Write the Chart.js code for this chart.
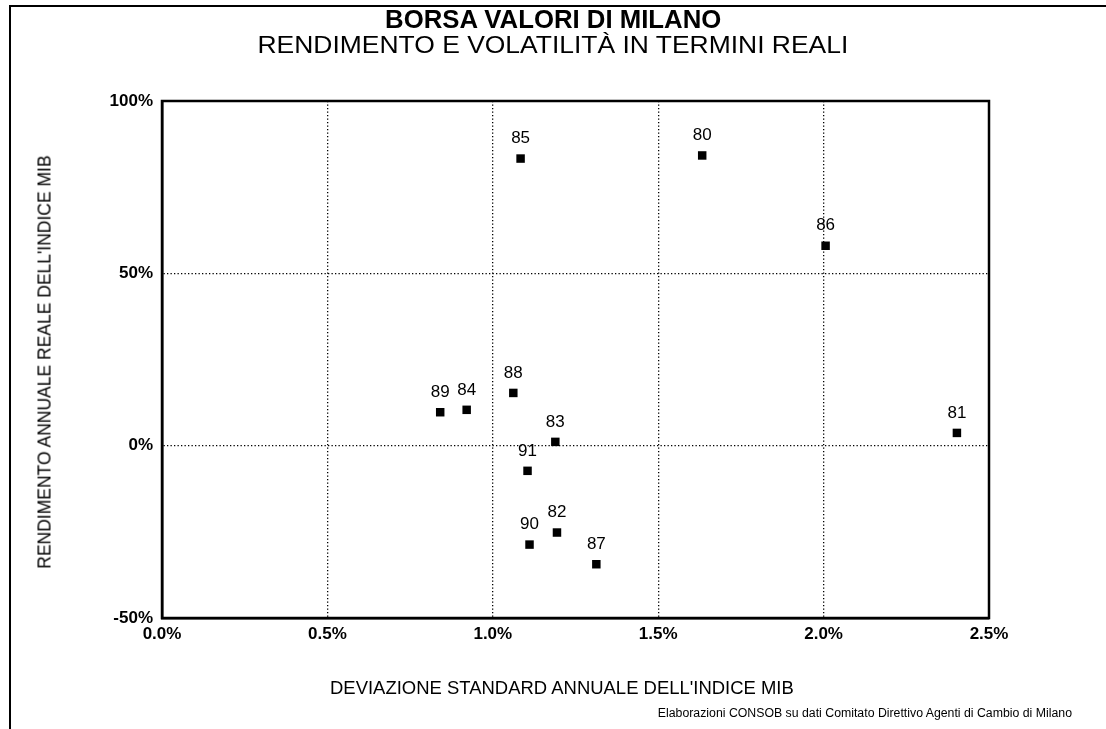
<!DOCTYPE html>
<html>
<head>
<meta charset="utf-8">
<script src="https://cdn.jsdelivr.net/npm/chart.js@4.4.0/dist/chart.umd.min.js"></script>
<style>
  html, body { margin: 0; padding: 0; background: #fff; }
  #wrap { position: relative; width: 1106px; height: 729px; overflow: hidden; font-family: "Liberation Sans", Arial, sans-serif; color: #000; }
  #frame { position: absolute; left: 9px; top: 5px; width: 1200px; height: 800px; border-left: 2px solid #000; border-top: 2px solid #000; }
  canvas { position: absolute; left: 0; top: 0; }
  .txt { position: absolute; white-space: nowrap; }
  #t1 { left: 0; width: 1106px; text-align: center; top: 6px; font-weight: bold; font-size: 25px; line-height: 26px; }
  #t1 span { display: inline-block; transform: scaleX(1.03); }
  #t2 { left: 0; width: 1106px; text-align: center; top: 32px; font-size: 23px; line-height: 26px; }
  #t2 span { display: inline-block; transform: scaleX(1.15); }
  #ytitle { left: 45px; top: 362px; font-size: 17.5px; transform: translate(-50%, -50%) rotate(-90deg); }
  #xtitle { left: 330px; top: 678px; font-size: 17.5px; line-height: 20px; transform-origin: 0 50%; transform: scaleX(1.055); }
  #src { right: 34px; top: 706px; font-size: 12.3px; line-height: 14px; }
</style>
</head>
<body>
<div id="wrap">
  <div id="frame"></div>
  <canvas id="c" width="1106" height="729"></canvas>
  <div class="txt" id="t1"><span>BORSA VALORI DI MILANO</span></div>
  <div class="txt" id="t2"><span>RENDIMENTO E VOLATILITÀ IN TERMINI REALI</span></div>
  <div class="txt" id="ytitle">RENDIMENTO ANNUALE REALE DELL'INDICE MIB</div>
  <div class="txt" id="xtitle">DEVIAZIONE STANDARD ANNUALE DELL'INDICE MIB</div>
  <div class="txt" id="src">Elaborazioni CONSOB su dati Comitato Direttivo Agenti di Cambio di Milano</div>
</div>
<script>
// Data
const years   = ["80", "81", "82", "83", "84", "85", "86", "87", "88", "89", "90", "91"];
const stdDev  = [1.633, 2.403, 1.194, 1.189, 0.921, 1.084, 2.006, 1.313, 1.062, 0.841, 1.111, 1.105]; // %
const realRet = [84.2, 3.7, -25.2, 1.1, 10.4, 83.3, 58.0, -34.4, 15.3, 9.7, -28.7, -7.3];           // %
const xTicks = [0, 0.5, 1.0, 1.5, 2.0, 2.5];
const yTicks = [-50, 0, 50, 100];

const points = years.map((y, i) => ({ x: stdDev[i], y: realRet[i], label: y }));

const boxPlugin = {
  id: 'box',
  afterDatasetsDraw(chart) {
    const a = chart.chartArea, ctx = chart.ctx;
    ctx.save();
    ctx.strokeStyle = '#000';
    ctx.lineWidth = 2.5;
    ctx.strokeRect(a.left, a.top, a.right - a.left, a.bottom - a.top);
    ctx.restore();
  }
};

const labelPlugin = {
  id: 'ptlabels',
  afterDatasetsDraw(chart) {
    const ctx = chart.ctx;
    const meta = chart.getDatasetMeta(0);
    ctx.save();
    ctx.fillStyle = '#000';
    ctx.font = '17px "Liberation Sans", Arial, sans-serif';
    ctx.textAlign = 'center';
    ctx.textBaseline = 'middle';
    meta.data.forEach((el, i) => {
      ctx.fillText(chart.data.datasets[0].data[i].label, el.x, el.y - 20);
    });
    ctx.restore();
  }
};

new Chart(document.getElementById('c'), {
  type: 'scatter',
  data: {
    datasets: [{
      data: points,
      backgroundColor: '#000',
      borderColor: '#000',
      borderWidth: 0,
      pointStyle: 'rect',
      pointRadius: 6,
      pointHoverRadius: 6
    }]
  },
  options: {
    responsive: false,
    animation: false,
    events: [],
    layout: { padding: { left: 0, top: 101, right: 117, bottom: 0 } },
    plugins: { legend: { display: false }, tooltip: { enabled: false }, title: { display: false } },
    scales: {
      x: {
        type: 'linear',
        min: 0, max: 2.5,
        afterFit(s) { s.height = 111; },
        afterBuildTicks(s) { s.ticks = xTicks.map(v => ({ value: v })); },
        ticks: {
          padding: 6,
          color: '#000',
          font: { family: '"Liberation Sans", Arial, sans-serif', size: 17, weight: 'bold' },
          callback: v => v.toFixed(1) + '%',
          maxRotation: 0
        },
        grid: { color: '#000', lineWidth: 1.3, drawTicks: false, tickLength: 0 },
        border: { display: true, color: '#000', width: 2.5, dash: [1.3, 2.2] }
      },
      y: {
        type: 'linear',
        min: -50, max: 100,
        afterFit(s) { s.width = 162; },
        afterBuildTicks(s) { s.ticks = yTicks.map(v => ({ value: v })); },
        ticks: {
          padding: 9,
          color: '#000',
          font: { family: '"Liberation Sans", Arial, sans-serif', size: 17, weight: 'bold' },
          callback: v => v + '%'
        },
        grid: { color: '#000', lineWidth: 1.3, drawTicks: false, tickLength: 0 },
        border: { display: true, color: '#000', width: 2.5, dash: [1.3, 2.2] }
      }
    }
  },
  plugins: [boxPlugin, labelPlugin]
});
</script>
</body>
</html>
